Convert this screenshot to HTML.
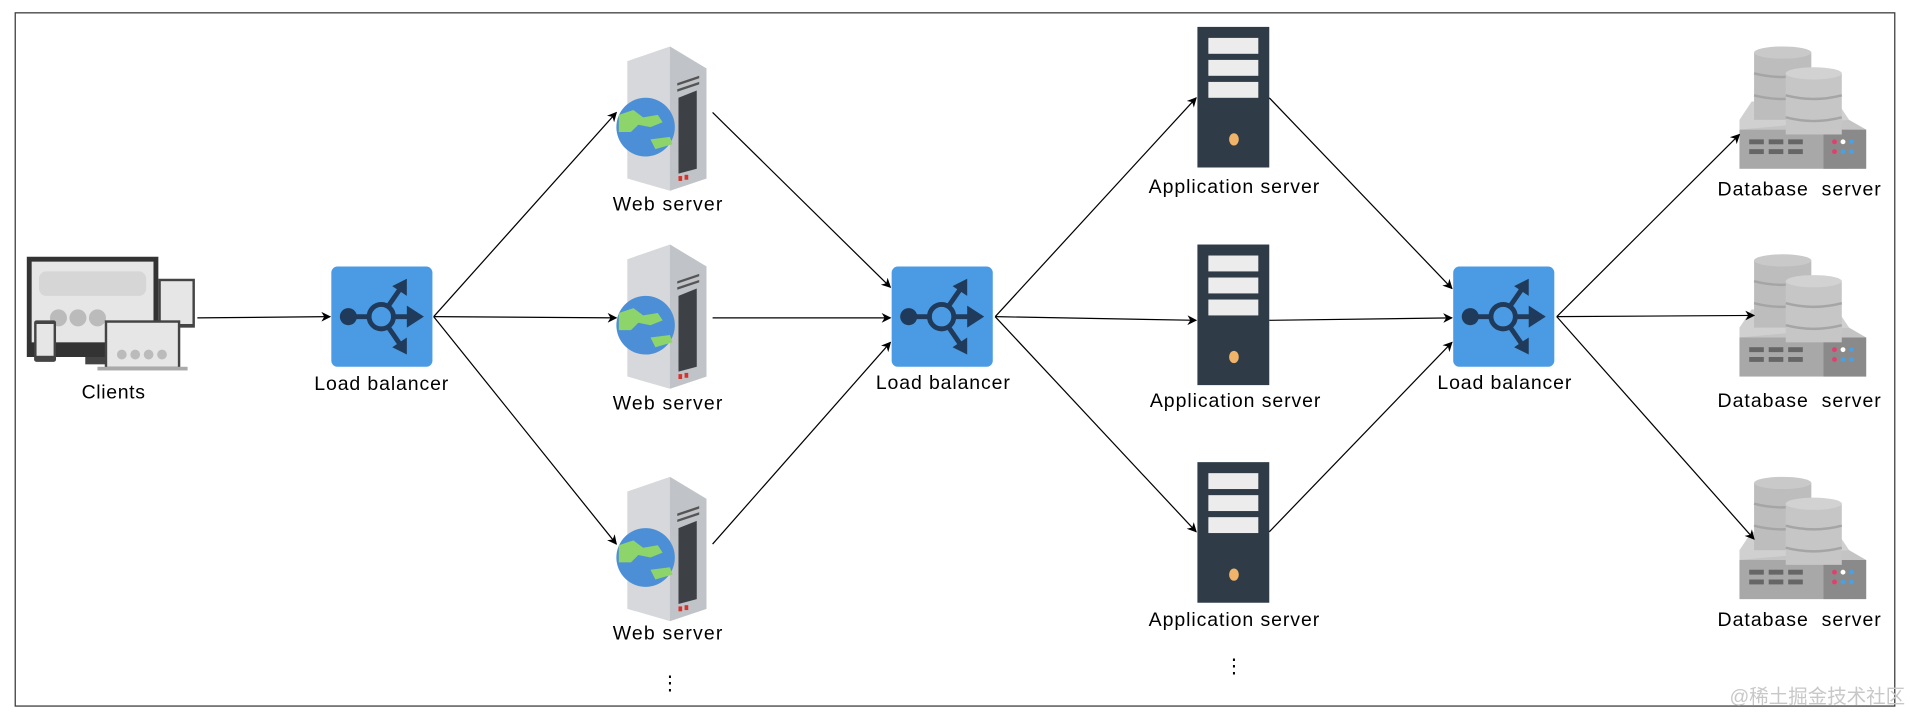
<!DOCTYPE html>
<html><head><meta charset="utf-8"><style>
html,body{margin:0;padding:0;background:#fff;width:1910px;height:714px;overflow:hidden}
svg{display:block}
text{font-family:"Liberation Sans",Arial,sans-serif;font-size:16px;fill:#000}
</style></head><body>
<svg width="1910" height="714" viewBox="0 0 1568 584" preserveAspectRatio="none" xmlns="http://www.w3.org/2000/svg">
<defs>
<marker id="ah" viewBox="0 0 10 10" refX="9" refY="5" markerWidth="8" markerHeight="8" orient="auto" markerUnits="userSpaceOnUse"><path d="M0,0 L10,5 L0,10 L3,5 z" fill="#000"/></marker>
<g id="lb">
<rect x="0" y="0" width="83" height="82" rx="5" fill="#4a9be3"/>
<line x1="14" y1="41" x2="32" y2="41" stroke="#1f3a5a" stroke-width="4"/>
<circle cx="14" cy="41" r="7" fill="#1f3a5a"/>
<circle cx="41" cy="41" r="10" fill="none" stroke="#1f3a5a" stroke-width="4"/>
<line x1="51" y1="41" x2="66" y2="41" stroke="#1f3a5a" stroke-width="4"/>
<path d="M62,32 L76,41 L62,50 z" fill="#1f3a5a"/>
<line x1="47" y1="32" x2="56" y2="19" stroke="#1f3a5a" stroke-width="4"/>
<path d="M50,16 L62,10 L62,24 z" fill="#1f3a5a"/>
<line x1="47" y1="50" x2="56" y2="63" stroke="#1f3a5a" stroke-width="4"/>
<path d="M50,66 L62,72 L62,58 z" fill="#1f3a5a"/>
</g>
<g id="ws">
<path d="M15,12 L50,0 L80,18 L80,108 L50,118 L15,108 z" fill="#d6d8db"/>
<path d="M50,0 L80,18 L80,108 L50,118 z" fill="#c0c3c7"/>
<path d="M56,30 L74,24 L74,26 L56,32 z M56,35 L74,29 L74,31 L56,37z" fill="#555"/>
<path d="M57,42 L72,36 L72,100 L57,104 z" fill="#3d4146"/>
<rect x="57" y="106" width="3" height="4" fill="#d9312b"/><rect x="62" y="105" width="3" height="4" fill="#d9312b"/>
<circle cx="30" cy="66" r="24" fill="#4c8fd6"/>
<path d="M8,56 L20,52 L28,58 L40,56 L44,62 L34,66 L24,64 L18,70 L8,70 z" fill="#8dd46a"/>
<path d="M34,76 L50,74 L52,80 L38,84 z" fill="#8dd46a"/>
</g>
<g id="as">
<rect x="0" y="0" width="59" height="115" fill="#2f3c47"/>
<rect x="9" y="9" width="41" height="13" fill="#ececec"/>
<rect x="9" y="27" width="41" height="13" fill="#ececec"/>
<rect x="9" y="45" width="41" height="13" fill="#ececec"/>
<ellipse cx="30" cy="92" rx="4" ry="5" fill="#f0b36a"/>
</g>
<g id="db">
<path d="M8,60 L18,45 L88,45 L98,60 L98,100 L8,100 z" fill="#d0d0d0"/>
<rect x="8" y="68" width="104" height="32" fill="#a8a8a8"/>
<rect x="77" y="68" width="35" height="32" fill="#8a8a8a"/>
<path d="M98,60 L112,68 L8,68 z" fill="#c4c4c4"/>
<rect x="16" y="76" width="12" height="4" fill="#666"/><rect x="32" y="76" width="12" height="4" fill="#666"/><rect x="48" y="76" width="12" height="4" fill="#666"/>
<rect x="16" y="84" width="12" height="4" fill="#666"/><rect x="32" y="84" width="12" height="4" fill="#666"/><rect x="48" y="84" width="12" height="4" fill="#666"/>
<circle cx="86" cy="78" r="2" fill="#e04070"/><circle cx="93" cy="78" r="2" fill="#fff"/><circle cx="100" cy="78" r="2" fill="#4aa0e0"/>
<circle cx="86" cy="86" r="2" fill="#e04070"/><circle cx="93" cy="86" r="2" fill="#4aa0e0"/><circle cx="100" cy="86" r="2" fill="#4aa0e0"/>
<rect x="20" y="5" width="47" height="55" fill="#bdbdbd"/>
<ellipse cx="43.5" cy="5" rx="23.5" ry="5" fill="#c9c9c9"/>
<path d="M20,22 Q43,28 67,22 M20,40 Q43,46 67,40" stroke="#a5a5a5" stroke-width="2" fill="none"/>
<rect x="46" y="22" width="46" height="50" fill="#c6c6c6"/>
<ellipse cx="69" cy="22" rx="23" ry="5" fill="#d2d2d2"/>
<path d="M46,40 Q69,46 92,40 M46,58 Q69,64 92,58" stroke="#a5a5a5" stroke-width="2" fill="none"/>
</g>
</defs>
<rect x="12.5" y="10.5" width="1543" height="567" fill="none" stroke="#333" stroke-width="1"/>

<g>
<rect x="22" y="210" width="108" height="82" fill="#333"/>
<rect x="26" y="214" width="100" height="66" fill="#e6e6e6"/>
<rect x="32" y="222" width="88" height="20" rx="6" fill="#d6d6d6"/>
<circle cx="48" cy="260" r="7" fill="#bbb"/><circle cx="64" cy="260" r="7" fill="#bbb"/><circle cx="80" cy="260" r="7" fill="#bbb"/>
<rect x="70" y="292" width="20" height="6" fill="#444"/>
<rect x="130" y="228" width="30" height="40" fill="#444"/><rect x="132" y="230" width="26" height="35" fill="#e6e6e6"/>
<rect x="28" y="262" width="18" height="34" rx="2" fill="#444"/><rect x="30" y="265" width="14" height="26" fill="#e6e6e6"/>
<rect x="86" y="262" width="62" height="40" fill="#444"/><rect x="88" y="264" width="58" height="36" fill="#e6e6e6"/>
<rect x="80" y="300" width="74" height="3" fill="#aaa"/>
<circle cx="100" cy="290" r="4" fill="#bbb"/><circle cx="111" cy="290" r="4" fill="#bbb"/><circle cx="122" cy="290" r="4" fill="#bbb"/><circle cx="133" cy="290" r="4" fill="#bbb"/>
</g>
<g style="transform-box:fill-box">
<text x="93" y="326" text-anchor="middle" textLength="52">Clients</text>
<text x="313" y="319" text-anchor="middle" textLength="110">Load balancer</text>
<text x="774" y="318" text-anchor="middle" textLength="110">Load balancer</text>
<text x="1235" y="318" text-anchor="middle" textLength="110">Load balancer</text>
<text x="548" y="172" text-anchor="middle" textLength="90">Web server</text>
<text x="548" y="335" text-anchor="middle" textLength="90">Web server</text>
<text x="548" y="523" text-anchor="middle" textLength="90">Web server</text>
<text x="1013" y="158" text-anchor="middle" textLength="140">Application server</text>
<text x="1014" y="333" text-anchor="middle" textLength="140">Application server</text>
<text x="1013" y="512" text-anchor="middle" textLength="140">Application server</text>
<text x="1477" y="160" text-anchor="middle" textLength="134" xml:space="preserve">Database  server</text>
<text x="1477" y="333" text-anchor="middle" textLength="134" xml:space="preserve">Database  server</text>
<text x="1477" y="512" text-anchor="middle" textLength="134" xml:space="preserve">Database  server</text>
</g>
<text x="550" y="564" text-anchor="middle" font-size="26">⋮</text>
<text x="1013" y="550" text-anchor="middle" font-size="26">⋮</text>

<use href="#lb" x="272" y="218"/>
<use href="#lb" x="732" y="218"/>
<use href="#lb" x="1193" y="218"/>
<use href="#ws" x="500" y="38"/>
<use href="#ws" x="500" y="200"/>
<use href="#ws" x="500" y="390"/>
<use href="#as" x="983" y="22"/>
<use href="#as" x="983" y="200"/>
<use href="#as" x="983" y="378"/>
<use href="#db" x="1420" y="38"/>
<use href="#db" x="1420" y="208"/>
<use href="#db" x="1420" y="390"/>

<g stroke="#000" stroke-width="1" fill="none" marker-end="url(#ah)">
<line x1="162" y1="260" x2="271" y2="259"/>
<line x1="356" y1="259" x2="506" y2="92"/>
<line x1="356" y1="259" x2="506" y2="260"/>
<line x1="356" y1="259" x2="506" y2="445"/>
<line x1="585" y1="92" x2="731" y2="235"/>
<line x1="585" y1="260" x2="731" y2="260"/>
<line x1="585" y1="445" x2="731" y2="280"/>
<line x1="817" y1="259" x2="982" y2="80"/>
<line x1="817" y1="259" x2="982" y2="262"/>
<line x1="817" y1="259" x2="982" y2="435"/>
<line x1="1042" y1="80" x2="1192" y2="236"/>
<line x1="1042" y1="262" x2="1192" y2="260"/>
<line x1="1042" y1="435" x2="1192" y2="280"/>
<line x1="1278" y1="259" x2="1428" y2="110"/>
<line x1="1278" y1="259" x2="1440" y2="258"/>
<line x1="1278" y1="259" x2="1440" y2="441"/>
</g>
<text x="1564" y="575" text-anchor="end" font-size="14" style="font-family:'Liberation Sans','Noto Sans CJK SC',sans-serif;fill:#c8c8c8">@稀土掘金技术社区</text>
</svg>
</body></html>
